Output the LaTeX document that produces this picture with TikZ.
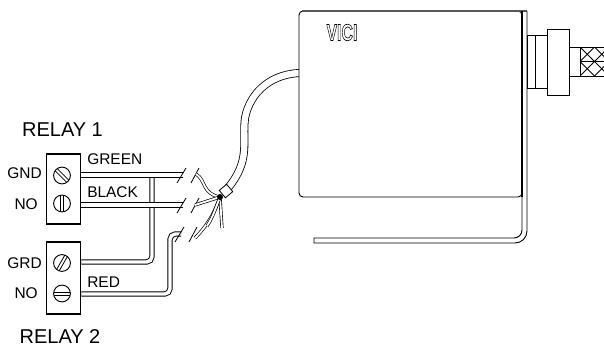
\documentclass[tikz,border=0pt]{standalone}
\usepackage{fontspec}
\setmainfont{Liberation Sans}
\usetikzlibrary{positioning}
\tikzset{
    wire/.style={draw=black, line width=0.7pt, double=white, double distance=2.6pt, rounded corners=4pt},
    thinwire/.style={draw=black, line width=0.5pt, double=white, double distance=1.4pt},
    relaybox/.style={draw, rectangle, line width=0.8pt, minimum width=26pt, inner sep=0pt},
    screw/.style={draw, circle, line width=0.7pt, minimum size=12.6pt, inner sep=0pt},
    lab/.style={inner sep=0pt, font=\fontsize{11.6}{12}\selectfont},
    title/.style={inner sep=0pt, font=\fontsize{15}{16}\selectfont}
}
\newcommand{\breakmark}[1]{
    \draw[line width=0.6pt] (#1) ++(-6,8) -- ++(9,-15);
    \draw[line width=0.6pt] (#1) ++(8,8) -- ++(8,-15);
}
\begin{document}
\begin{tikzpicture}[x=0.75pt, y=-0.75pt]
        \useasboundingbox (0,0) rectangle (604,347);

        % cable, goes under the body
        \draw[draw=black, line width=0.6pt, double=white, double distance=4.8pt]
            (305,73) .. controls (272,72) and (250,92) .. (245,118) .. controls (242,142) and (251,160) .. (228,188);

        \node[draw, rectangle, rounded corners=3pt, fill=white, line width=0.7pt, minimum width=167.25pt, minimum height=139.5pt] (body) at (410.5,104) {};
        \node[inner sep=0pt] (logo) at (342,32.5) {\special{pdf:literal direct 1 Tr 0.5 w}\scalebox{0.68}[1]{\fontsize{17.5}{18}\selectfont\bfseries VICI}\special{pdf:literal direct 0 Tr}};

        % mounting plate
        \coordinate (plateTop) at (527,11);
        \coordinate (plateEnd) at (314,243);
        \draw[gray!70!black, line width=1.3pt] (302,11) -- (plateTop);
        \draw[line width=1.7pt] (522,11) -- (522,197);
        \draw[line width=0.7pt] (plateTop) [rounded corners=9pt] -- (527,243) [sharp corners] -- (plateEnd) -- (314,238) [rounded corners=6pt] -- (522,238) [sharp corners] -- (522,197);

        % fitting
        \node[draw, rectangle, line width=0.7pt, fill=white, minimum width=15pt, minimum height=39.75pt, anchor=west] (collar) at (527,61.5) {};
        \draw[line width=0.7pt] (535,35) -- (535,88);
        \node[draw, rectangle, line width=0.7pt, fill=white, minimum width=16.5pt, minimum height=49.5pt, anchor=west] (nut) at (547,62) {};
        \draw[line width=0.7pt] (nut.east |- 0,47) -- (604,47);
        \draw[line width=0.7pt] (nut.east |- 0,76) -- (604,76);
        \begin{scope}
            \clip (580,47) rectangle (604,76);
            \foreach \i in {0,1,2,3,4,5,6}{
                \draw[line width=0.7pt] (551+\i*14.5,47) -- (580+\i*14.5,76);
                \draw[line width=0.7pt] (551+\i*14.5,76) -- (580+\i*14.5,47);
            }
            \draw[line width=0.7pt] (580,61.5) -- (604,61.5);
        \end{scope}
        \draw[line width=0.7pt] (580,47) -- (580,76);

        % terminal blocks
        \node[relaybox, minimum height=52.5pt] (relayA) at (63.5,189) {};
        \node[relaybox, minimum height=54pt] (relayB) at (63.5,278) {};
        \node[screw] (gndA) at (62,175.5) {};
        \node[screw] (noA) at (62,203.5) {};
        \node[screw] (grdB) at (62,263) {};
        \node[screw] (noB) at (62,293.5) {};
        \foreach \nm/\ang in {gndA/-45, noA/90, grdB/60, noB/0}{
            \draw[line width=0.6pt, rotate around={\ang:(\nm)}] ([xshift=-6.2pt,yshift=-1.1pt]\nm.center) -- ([xshift=6.2pt,yshift=-1.1pt]\nm.center);
            \draw[line width=0.6pt, rotate around={\ang:(\nm)}] ([xshift=-6.2pt,yshift=1.1pt]\nm.center) -- ([xshift=6.2pt,yshift=1.1pt]\nm.center);
        }

        \node[title] (titleA) at (62.5,130) {RELAY 1};
        \node[title] (titleB) at (60,337) {RELAY 2};
        \node[lab, anchor=east] (gndLab) at (42,173) {GND};
        \node[lab, anchor=east] (noLabA) at (38,204) {NO};
        \node[lab, anchor=east] (grdLab) at (42,263) {GRD};
        \node[lab, anchor=east] (noLabB) at (38,293) {NO};
        \node[lab, anchor=west] (greenLab) at (87,159) {GREEN};
        \node[lab, anchor=west] (blackLab) at (87,192) {BLACK};
        \node[lab, anchor=west] (redLab) at (87,282) {RED};

        % field wires
        \coordinate (gapA) at (183,175);
        \coordinate (gapB) at (183,205);
        \coordinate (gapC) at (181,234);
        \coordinate (turnA) at (152,262);
        \coordinate (turnB) at (170,294);
        \draw[wire] (relayB.east |- 0,262) -- (turnA) -- (turnA |- gapA);
        \draw[wire] (relayA.east |- gapA) -- (gapA);
        \draw[wire] (relayA.east |- gapB) -- (gapB);
        \draw[wire] (relayB.east |- turnB) -- (turnB) -- (turnB |- gapC) -- (gapC);
        \breakmark{gapA}
        \breakmark{gapB}
        \breakmark{gapC}

        % loose ends at the tie
        \node[draw, rectangle, line width=0.6pt, fill=white, minimum size=7.2pt, inner sep=0pt, rotate=40] (sleeve) at (226,191) {};
        \coordinate (knot) at (220,197);
        \coordinate (endA) at (196,174);
        \coordinate (endB) at (195,205);
        \coordinate (endC) at (195,238);
        \coordinate (endD) at (222,228);
        \draw[thinwire] (endA) .. controls (206,180) and (202,194) .. (knot);
        \draw[thinwire] (endB) -- (knot);
        \draw[thinwire] (endC) .. controls (207,226) and (215,212) .. (knot);
        \draw[thinwire] (endD) -- (knot);
        \draw[thinwire] (207,226) .. controls (212,218) .. (knot);
        \node[fill=black, circle, minimum size=4.5pt, inner sep=0pt] (tie) at (knot) {};
    \end{tikzpicture}
\end{document}
